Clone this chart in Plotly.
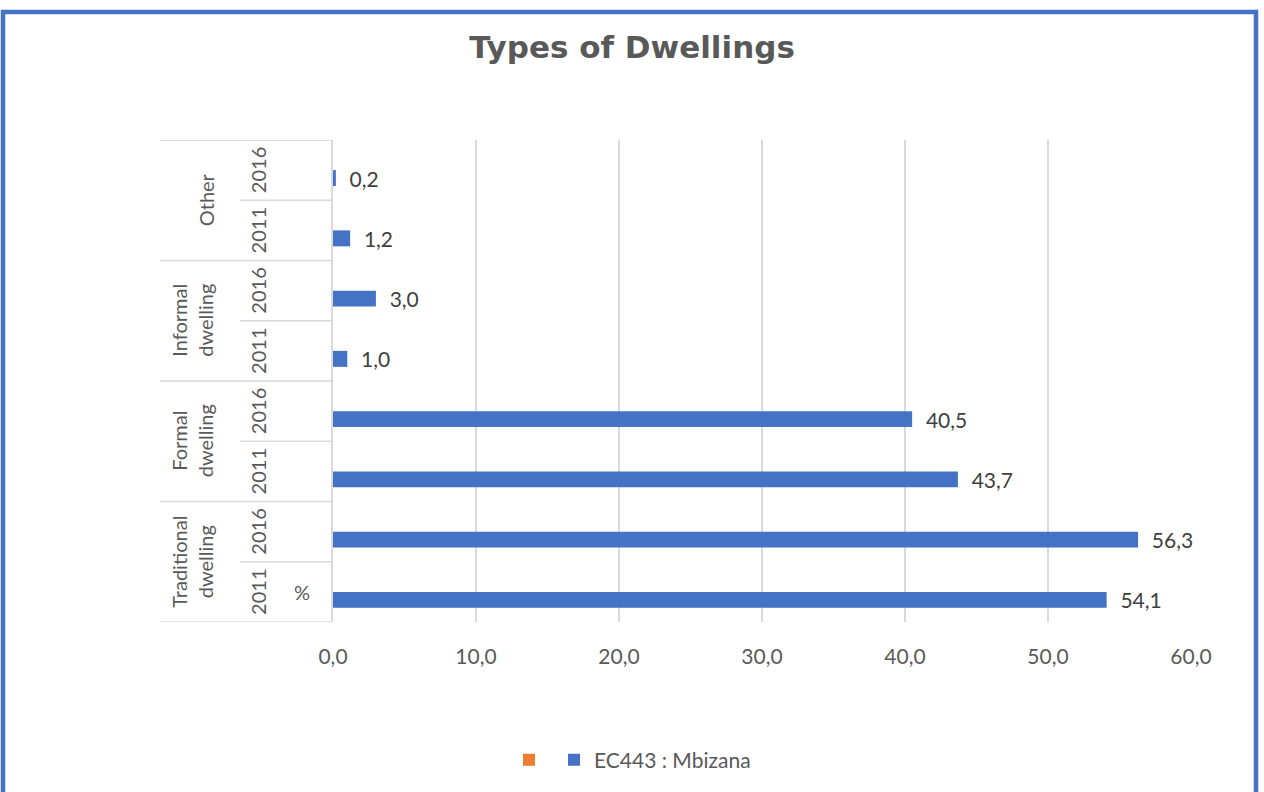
import plotly.graph_objects as go

# ---- data ----
groups = ["Traditional<br>dwelling", "Formal<br>dwelling", "Informal<br>dwelling", "Other"]
years = ["2011", "2016"]
categories = [f"{g.replace('<br>', ' ')} {y}" for g in groups for y in years]
values_mbizana = [54.1, 56.3, 43.7, 40.5, 1.0, 3.0, 1.2, 0.2]
values_empty = [0, 0, 0, 0, 0, 0, 0, 0]
series_names = ["EC443 : Mbizana", ""]
x_ticks = [0, 10, 20, 30, 40, 50, 60]

# ---- layout constants (pixels) ----
W, H = 1264, 792
L, R, T, B = 333, 73, 140, 170
PW, PH = W - L - R, H - T - B

def px_x(px):
    return (px - L) / PW

def px_y(py):
    return (H - B - py) / PH

BLUE = "#4472C4"
ORANGE = "#ED7D31"
GRID = "#d9d9d9"
TXT = "#595959"
FONT = "Lato"
FS = 21

fig = go.Figure()
fig.add_trace(go.Bar(
    y=categories, x=values_mbizana, orientation="h", name=series_names[0],
    marker=dict(color=BLUE, line=dict(width=0)),
    text=values_mbizana, texttemplate="  %{x:.1f}", textposition="outside",
    constraintext="none",
    textfont=dict(size=FS, color="#404040", family=FONT), cliponaxis=False,
))
fig.add_trace(go.Bar(
    y=categories, x=values_empty, orientation="h", name=series_names[1],
    marker=dict(color=ORANGE, line=dict(width=0)),
))

shapes = []
n = len(categories)
for i in range(n + 1):
    yb = i - 0.5
    long_line = (i % 2 == 0)
    shapes.append(dict(type="line", xref="paper", yref="y",
                       x0=px_x(160) if long_line else px_x(240), x1=0,
                       y0=yb, y1=yb, line=dict(color=GRID, width=1.5)))
shapes.append(dict(type="rect", xref="paper", yref="paper",
                   x0=px_x(3), x1=px_x(1256), y0=px_y(12), y1=px_y(830),
                   line=dict(color=BLUE, width=4.5), fillcolor="rgba(0,0,0,0)",
                   layer="below"))

annotations = []
for i, c in enumerate(categories):
    annotations.append(dict(xref="paper", yref="y", x=px_x(258), y=i,
                            text=years[i % 2], textangle=-90, showarrow=False,
                            font=dict(size=20, color=TXT, family=FONT),
                            xanchor="center", yanchor="middle"))
for gi, g in enumerate(groups):
    gx = 206 if "<br>" not in g else 192
    annotations.append(dict(xref="paper", yref="y", x=px_x(gx), y=gi * 2 + 0.5,
                            text=g, textangle=-90, showarrow=False,
                            font=dict(size=20, color=TXT, family=FONT),
                            xanchor="center", yanchor="middle"))
annotations.append(dict(xref="paper", yref="y", x=px_x(302), y=0, text="%",
                        showarrow=False, font=dict(size=20, color=TXT, family=FONT),
                        xanchor="center", yanchor="middle"))

fig.update_layout(
    width=W, height=H,
    margin=dict(l=L, r=R, t=T, b=B),
    paper_bgcolor="white", plot_bgcolor="white",
    separators=", ",
    barmode="group", bargap=0.47, bargroupgap=0,
    title=dict(text="<b>Types of Dwellings</b>", x=0.5, xanchor="center",
               y=1 - 47 / H, yanchor="middle",
               font=dict(size=31, color=TXT, family="DejaVu Sans")),
    xaxis=dict(range=[0, 60], tickvals=x_ticks, tickformat=".1f",
               showgrid=True, gridcolor=GRID, gridwidth=1.5, zeroline=False,
               showline=False, ticks="", ticklabelstandoff=20,
               tickfont=dict(size=FS, color=TXT, family=FONT)),
    yaxis=dict(categoryorder="array", categoryarray=categories,
               showticklabels=False, showgrid=False, zeroline=False,
               showline=True, linecolor=GRID, linewidth=1.5,
               range=[-0.5, n - 0.5]),
    showlegend=True,
    legend=dict(orientation="h", traceorder="reversed",
                x=px_x(509), xanchor="left", y=px_y(760), yanchor="middle",
                font=dict(size=FS, color=TXT, family=FONT)),
    shapes=shapes, annotations=annotations,
)

fig.write_html("out.html")
